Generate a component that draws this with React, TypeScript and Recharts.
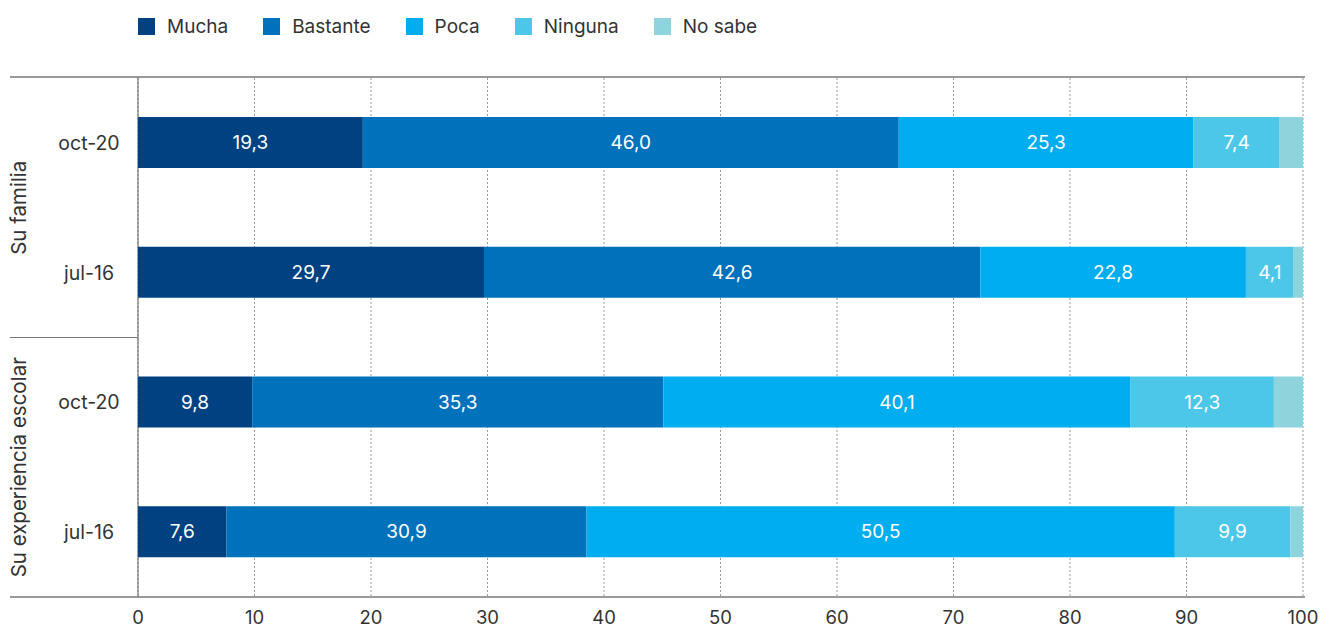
import React from 'react';
import { BarChart, Bar, XAxis, YAxis, CartesianGrid, LabelList, usePlotArea } from 'recharts';

const categories = ['oct-20', 'jul-16', 'oct-20', 'jul-16'];
const groups = ['Su familia', 'Su experiencia escolar'];
const mucha = [19.3, 29.7, 9.8, 7.6];
const bastante = [46.0, 42.6, 35.3, 30.9];
const poca = [25.3, 22.8, 40.1, 50.5];
const ninguna = [7.4, 4.1, 12.3, 9.9];
const noSabe = [2.0, 0.8, 2.5, 1.1];
const xTicks = [0, 10, 20, 30, 40, 50, 60, 70, 80, 90, 100];

const seriesDefs = [
  { key: 'Mucha', values: mucha, color: '#004281', label: true },
  { key: 'Bastante', values: bastante, color: '#0072bc', label: true },
  { key: 'Poca', values: poca, color: '#00adee', label: true },
  { key: 'Ninguna', values: ninguna, color: '#4dc7e8', label: true },
  { key: 'No sabe', values: noSabe, color: '#8fd4dd', label: false },
];

const data = categories.map((c, i) => {
  const row: any = { key: `${i}-${c}`, cat: c };
  seriesDefs.forEach((s) => {
    row[s.key] = s.values[i];
  });
  return row;
});

const FONT = 'Inter, "Liberation Sans", Arial, sans-serif';
const TEXT = '#333333';

const fmt = (v: any) => (typeof v === 'number' ? v.toFixed(1).replace('.', ',') : v);

function Decorations() {
  const area = usePlotArea();
  if (!area) return null;
  const { x, y, width, height } = area;
  const left = 10;
  const right = x + width + 2;
  const bottom = y + height;
  const mid = y + height / 2;
  return (
    <g>
      <line x1={left} x2={right} y1={y - 1} y2={y - 1} stroke="#777" strokeWidth={1.5} />
      <line x1={left} x2={right} y1={bottom} y2={bottom} stroke="#777" strokeWidth={1.5} />
      <line x1={x} x2={x} y1={y - 1} y2={bottom} stroke="#777" strokeWidth={1.2} />
      <line x1={left} x2={x} y1={mid} y2={mid} stroke="#777" strokeWidth={1.2} />
      {groups.map((g, i) => {
        const cy = y + (height / 4) * (2 * i + 1);
        return (
          <text
            key={g}
            x={18}
            y={cy}
            transform={`rotate(-90 18 ${cy})`}
            textAnchor="middle"
            dominantBaseline="central"
            fill={TEXT}
            fontSize={20.5}
            fontFamily={FONT}
          >
            {g}
          </text>
        );
      })}
    </g>
  );
}

const YTick = (props: any) => {
  const { y, payload } = props;
  const idx = payload.index ?? 0;
  return (
    <text
      x={89}
      y={y}
      textAnchor="middle"
      dominantBaseline="central"
      fill={TEXT}
      fontSize={19.5}
      fontFamily={FONT}
    >
      {categories[idx] ?? String(payload.value).split('-').slice(1).join('-')}
    </text>
  );
};

export default function App() {
  return (
    <div style={{ position: 'absolute', left: 0, top: 0, width: 1319, height: 631, background: '#fff' }}>
      <div
        style={{
          position: 'absolute',
          left: 138,
          top: 15,
          display: 'flex',
          alignItems: 'center',
          fontFamily: FONT,
          fontSize: 19,
          color: TEXT,
        }}
      >
        {seriesDefs.map((s) => (
          <div key={s.key} style={{ display: 'flex', alignItems: 'center', marginRight: 35 }}>
            <span style={{ display: 'inline-block', width: 17, height: 17, background: s.color, marginRight: 12 }} />
            <span>{s.key}</span>
          </div>
        ))}
      </div>
      <BarChart
        width={1319}
        height={631}
        data={data}
        layout="vertical"
        margin={{ top: 78, right: 16, bottom: 4, left: 0 }}
        barCategoryGap={0}
      >
        <CartesianGrid horizontal={false} vertical strokeDasharray="2 2" stroke="#9a9a9a" />
        <XAxis
          type="number"
          domain={[0, 100]}
          ticks={xTicks}
          axisLine={false}
          tickLine={false}
          tickMargin={8}
          tick={{ fill: TEXT, fontSize: 18.5, fontFamily: FONT }}
          interval={0}
          allowDataOverflow
        />
        <YAxis
          type="category"
          dataKey="key"
          width={138}
          axisLine={false}
          tickLine={false}
          tick={<YTick />}
          interval={0}
        />
        {seriesDefs.map((s) => (
          <Bar key={s.key} dataKey={s.key} stackId="a" fill={s.color} barSize={51} isAnimationActive={false}>
            {s.label && (
              <LabelList
                dataKey={s.key}
                position="center"
                formatter={fmt}
                fill="#ffffff"
                fontSize={19}
                fontFamily={FONT}
              />
            )}
          </Bar>
        ))}
        <Decorations />
      </BarChart>
    </div>
  );
}
